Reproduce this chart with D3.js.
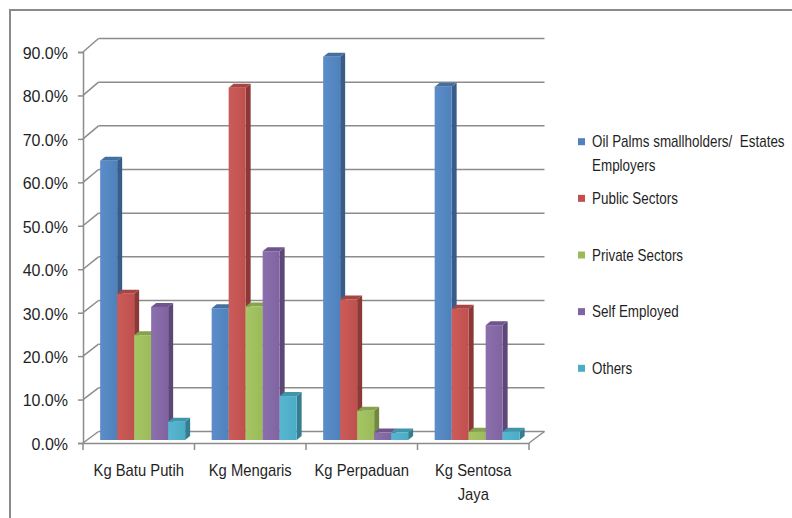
<!DOCTYPE html>
<html>
<head>
<meta charset="utf-8">
<script src="https://cdn.jsdelivr.net/npm/d3@7"></script>
<style>
  body { margin: 0; background: #fff; }
  svg text { font-family: "Liberation Sans Narrow", "Arial Narrow", "Liberation Sans", sans-serif; fill: #1f1f1f; white-space: pre; }
</style>
</head>
<body>
<svg id="chart" width="792" height="518"></svg>
<script>
// Villages (category labels use "|" for a line break)
const categories = ["Kg Batu Putih", "Kg Mengaris", "Kg Perpaduan", "Kg Sentosa|Jaya"];
// Occupation groups (legend labels use "|" for a line break)
const seriesNames = ["Oil Palms smallholders/  Estates|Employers", "Public Sectors", "Private Sectors", "Self Employed", "Others"];
// Share of respondents (%) per village, one array per occupation group
const oilPalms       = [64.2, 30.3, 88.1, 81.2];
const publicSectors  = [33.6, 81.0, 32.3, 30.2];
const privateSectors = [24.1, 30.7, 6.7, 1.9];
const selfEmployed   = [30.6, 43.4, 1.7, 26.4];
const others         = [4.2, 10.1, 1.7, 1.9];
const yTicks = [0, 10, 20, 30, 40, 50, 60, 70, 80, 90];

const seriesValues = [oilPalms, publicSectors, privateSectors, selfEmployed, others];
const palette = [
  { front: "#4F81BD", light: "#5B8DC9", side: "#385D8A", top: "#44709F" },
  { front: "#C0504D", light: "#CB5C59", side: "#8C3836", top: "#A64542" },
  { front: "#9BBB59", light: "#A6C666", side: "#71893F", top: "#86A24C" },
  { front: "#8064A2", light: "#8B70AD", side: "#5C4776", top: "#6E568C" },
  { front: "#4BACC6", light: "#58B7D0", side: "#357D90", top: "#4095AC" }
];

const svg = d3.select("#chart");

// outer frame
svg.append("path")
  .attr("d", "M10,518 L10,10 L792,10")
  .attr("fill", "none").attr("stroke", "#8a8a8a").attr("stroke-width", 2);

// 3-D projection settings
const wallDX = 15.5;           // depth offset of the back wall
const barDX = 3.9;             // bars sit a quarter into the floor depth
const capDX = 5, capDY = -4;   // bar thickness in projection

const x0 = d3.scaleBand().domain(categories).range([83, 529]);
const x1 = d3.scaleBand().domain(seriesNames).range([0, x0.bandwidth()]).paddingInner(0).paddingOuter(0.78);
const yFront = d3.scaleLinear().domain([0, 90]).range([443, 52]);
const yBack  = d3.scaleLinear().domain([0, 90]).range([431.5, 38.5]);
const yBar   = d3.scaleLinear().domain([0, 90]).range([440, 48.5]);

const gridColor = "#8c8c8c";
const grid = svg.append("g").attr("stroke", gridColor).attr("stroke-width", 1.5).attr("fill", "none");

// back-wall gridlines
grid.selectAll("line.h").data(yTicks).join("line").attr("class", "h")
  .attr("x1", x0.range()[0] + wallDX).attr("x2", x0.range()[1] + wallDX)
  .attr("y1", d => yBack(d)).attr("y2", d => yBack(d));
// side-wall diagonals
grid.selectAll("line.d").data(yTicks).join("line").attr("class", "d")
  .attr("x1", x0.range()[0]).attr("x2", x0.range()[0] + wallDX)
  .attr("y1", d => yFront(d)).attr("y2", d => yBack(d));
// floor right edge
grid.append("line")
  .attr("x1", x0.range()[1]).attr("y1", yFront(0))
  .attr("x2", x0.range()[1] + wallDX).attr("y2", yBack(0));

// value axis
const yAxis = svg.append("g").attr("transform", `translate(${x0.range()[0]},0)`)
  .call(d3.axisLeft(yFront).tickValues(yTicks).tickSize(5).tickPadding(10)
    .tickFormat(d => d.toFixed(1) + "%"));
yAxis.select(".domain").attr("stroke", gridColor).attr("stroke-width", 1.5);
yAxis.selectAll(".tick line").attr("stroke", gridColor).attr("stroke-width", 1.5);
yAxis.selectAll(".tick text").attr("font-size", 16).attr("fill", "#1f1f1f").attr("dy", "0.4em");

// category axis
const xAxis = svg.append("g").attr("transform", `translate(0,${yFront(0)})`)
  .call(d3.axisBottom(x0).tickSize(0).tickFormat(""));
xAxis.select(".domain").attr("stroke", gridColor).attr("stroke-width", 1.5);
const boundaries = categories.map(c => x0(c)).concat([x0.range()[1]]);
svg.append("g").selectAll("line").data(boundaries).join("line")
  .attr("x1", d => d).attr("x2", d => d)
  .attr("y1", yFront(0)).attr("y2", yFront(0) + 7)
  .attr("stroke", gridColor).attr("stroke-width", 1.5);

// category labels, slightly condensed
const catLabels = svg.append("g").attr("font-size", 16).attr("text-anchor", "middle");
categories.forEach(c => {
  const t = catLabels.append("g")
    .attr("transform", `translate(${x0(c) + x0.bandwidth() / 2},476) scale(0.925,1)`)
    .append("text");
  c.split("|").forEach((line, i) => {
    t.append("tspan").attr("x", 0).attr("dy", i === 0 ? 0 : 24).text(line);
  });
});

// gradients for bar fronts
const defs = svg.append("defs");
palette.forEach((p, i) => {
  const g = defs.append("linearGradient").attr("id", "front" + i)
    .attr("x1", "0").attr("x2", "1").attr("y1", "0").attr("y2", "0");
  g.append("stop").attr("offset", "0").attr("stop-color", p.light);
  g.append("stop").attr("offset", "1").attr("stop-color", p.front);
});

// 3-D bars, drawn left to right so each one covers its neighbour's side face
const bars = svg.append("g");
categories.forEach((c, ci) => {
  seriesNames.forEach((s, si) => {
    const v = seriesValues[si][ci];
    const x = x0(c) + x1(s) + barDX;
    const w = x1.bandwidth();
    const top = yBar(v), bottom = yBar(0);
    const p = palette[si];
    const g = bars.append("g");
    g.append("polygon")
      .attr("points", [[x + w, top], [x + w + capDX, top + capDY], [x + w + capDX, bottom + capDY], [x + w, bottom]].join(" "))
      .attr("fill", p.side);
    g.append("polygon")
      .attr("points", [[x, top], [x + capDX, top + capDY], [x + w + capDX, top + capDY], [x + w, top]].join(" "))
      .attr("fill", p.top);
    g.append("rect")
      .attr("x", x).attr("y", top).attr("width", w).attr("height", bottom - top)
      .attr("fill", `url(#front${si})`);
  });
});

// legend, condensed text
const legendY = d3.scalePoint().domain(seriesNames).range([141.7, 368.3]);
const legend = svg.append("g").attr("font-size", 16);
seriesNames.forEach((s, i) => {
  const y = legendY(s);
  legend.append("rect").attr("x", 578).attr("y", y - 3.5).attr("width", 7).attr("height", 7)
    .attr("fill", palette[i].front);
  const t = legend.append("g").attr("transform", `translate(592,${y}) scale(0.84,1)`).append("text");
  s.split("|").forEach((line, li) => {
    t.append("tspan").attr("x", 0).attr("dy", li === 0 ? "0.36em" : 23.3).text(line);
  });
});
</script>
</body>
</html>
